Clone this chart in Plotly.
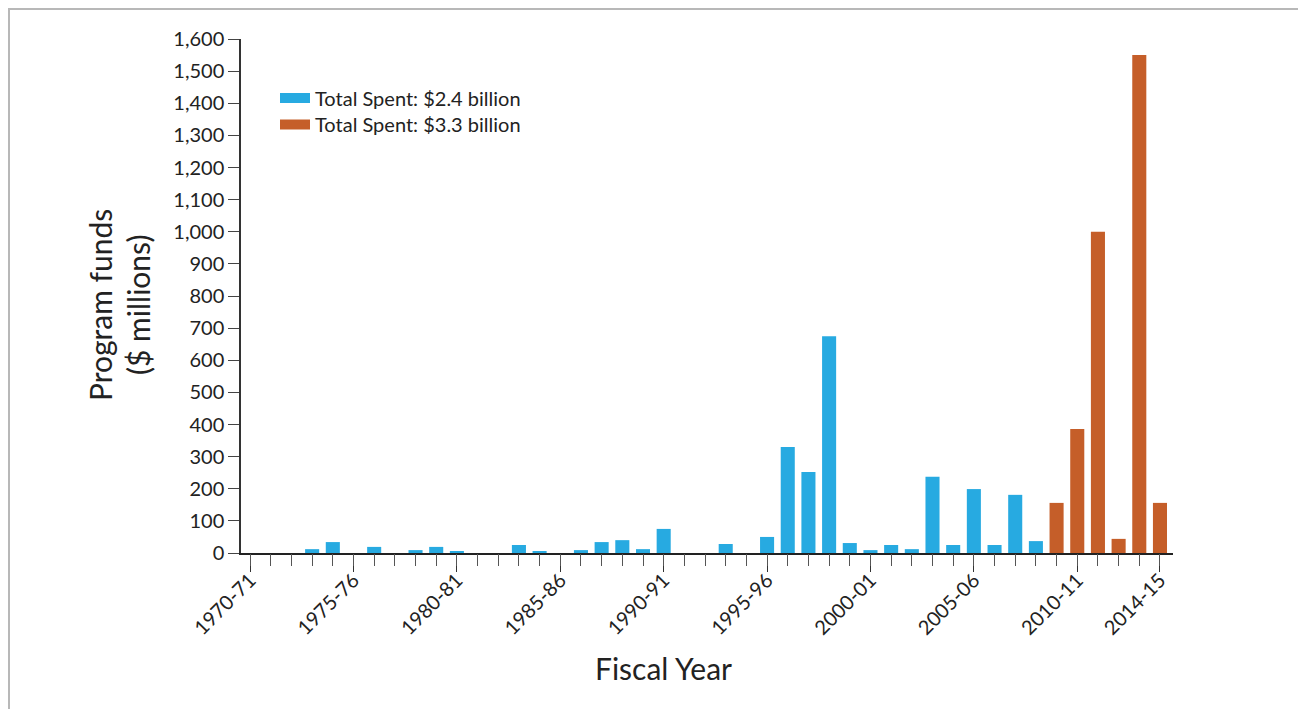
import plotly.graph_objects as go

years = [f"{y}-{str(y + 1)[-2:]}" for y in range(1970, 2015)]

blue_values = [0, 0, 0, 12, 34, 0, 19, 0, 9, 19,
               6, 0, 0, 25, 6, 0, 9, 34, 40, 12,
               75, 0, 0, 28, 0, 50, 330, 252, 675, 31,
               9, 25, 12, 237, 25, 199, 25, 181, 37, None,
               None, None, None, None, None]
orange_values = [None] * 39 + [156, 386, 1000, 44, 1550, 156]

labeled = ["1970-71", "1975-76", "1980-81", "1985-86", "1990-91",
           "1995-96", "2000-01", "2005-06", "2010-11", "2014-15"]

series_names = ["Total Spent: $2.4 billion", "Total Spent: $3.3 billion"]
colors = ["#27aae1", "#c55e29"]

FONT = "Lato, 'Open Sans', sans-serif"
OFF = 8                      # browser default body margin
W, H = 1306 - OFF, 709 - OFF
# plot area in page pixels
PL, PT, PR, PB = 241, 39, 1173, 553
L, T = PL - OFF, PT - OFF
R, B = W - (PR - OFF), H - (PB - OFF)
pw, ph = W - L - R, H - T - B

def px_x(x):
    return (x - OFF - L) / pw

def px_y(y):
    return (H - B - (y - OFF)) / ph

fig = go.Figure()
for vals, name, col, leg in zip([blue_values, orange_values], series_names, colors,
                                ["legend", "legend2"]):
    fig.add_trace(go.Bar(x=years, y=vals, name=name, showlegend=False,
                         marker=dict(color=col, line=dict(width=0))))
    # legend proxy (wide rectangular swatch)
    fig.add_trace(go.Scatter(x=[None], y=[None], mode="lines", name=name,
                             line=dict(color=col, width=10), legend=leg,
                             showlegend=True))

xr = [-0.44, len(years) - 1 + 0.63]
legend_common = dict(xanchor="left", yanchor="middle",
                     font=dict(size=20, family=FONT, color="#222222"),
                     bgcolor="rgba(0,0,0,0)", itemwidth=30)
fig.update_layout(
    width=W, height=H,
    margin=dict(l=L, r=R, t=T, b=B),
    paper_bgcolor="white", plot_bgcolor="white",
    barmode="overlay", bargap=0.32,
    font=dict(family=FONT, color="#222222"),
    showlegend=True,
    legend=dict(x=px_x(275), y=px_y(98), **legend_common),
    legend2=dict(x=px_x(275), y=px_y(124.5), **legend_common),
    xaxis=dict(type="category", categoryorder="array", categoryarray=years,
               range=xr, tickmode="array", tickvals=labeled, ticktext=labeled,
               ticks="outside", ticklen=17, tickcolor="#333333", tickwidth=1,
               tickangle=-45, tickfont=dict(size=20, family=FONT, color="#222222"),
               ticklabelstandoff=-11,
               showline=True, linecolor="#222222", linewidth=1.5,
               showgrid=False, zeroline=False, fixedrange=True),
    xaxis2=dict(overlaying="x", anchor="y", side="bottom", range=xr,
                tickmode="linear", tick0=0, dtick=1, ticks="outside", ticklen=12,
                tickcolor="#555555", tickwidth=1, showticklabels=False,
                showline=False, showgrid=False, zeroline=False),
    yaxis=dict(range=[0, 1600], tickmode="linear", tick0=0, dtick=100,
               tickformat=",", ticks="outside", ticklen=11, tickcolor="#444444",
               tickfont=dict(size=20, family=FONT, color="#222222"),
               showline=True, linecolor="#333333", linewidth=1.5,
               showgrid=False, zeroline=False),
    shapes=[dict(type="rect", xref="paper", yref="paper",
                 x0=px_x(9), x1=px_x(1304), y0=px_y(740), y1=px_y(9),
                 line=dict(color="#b8b8b8", width=2), fillcolor="rgba(0,0,0,0)",
                 layer="below")],
    annotations=[
        dict(text="Program funds", xref="paper", yref="paper",
             x=px_x(100), y=px_y(305), textangle=-90, showarrow=False,
             font=dict(size=30, family=FONT, color="#222222"),
             xanchor="center", yanchor="middle"),
        dict(text="($ millions)", xref="paper", yref="paper",
             x=px_x(138), y=px_y(305), textangle=-90, showarrow=False,
             font=dict(size=30, family=FONT, color="#222222"),
             xanchor="center", yanchor="middle"),
        dict(text="Fiscal Year", xref="paper", yref="paper",
             x=px_x(663), y=px_y(668), showarrow=False,
             font=dict(size=30, family=FONT, color="#222222"),
             xanchor="center", yanchor="middle"),
    ],
)
# invisible trace to activate xaxis2
fig.add_trace(go.Scatter(x=[0], y=[0], xaxis="x2", yaxis="y", mode="markers",
                         marker=dict(opacity=0), showlegend=False, hoverinfo="skip"))

fig.write_html("out.html")
